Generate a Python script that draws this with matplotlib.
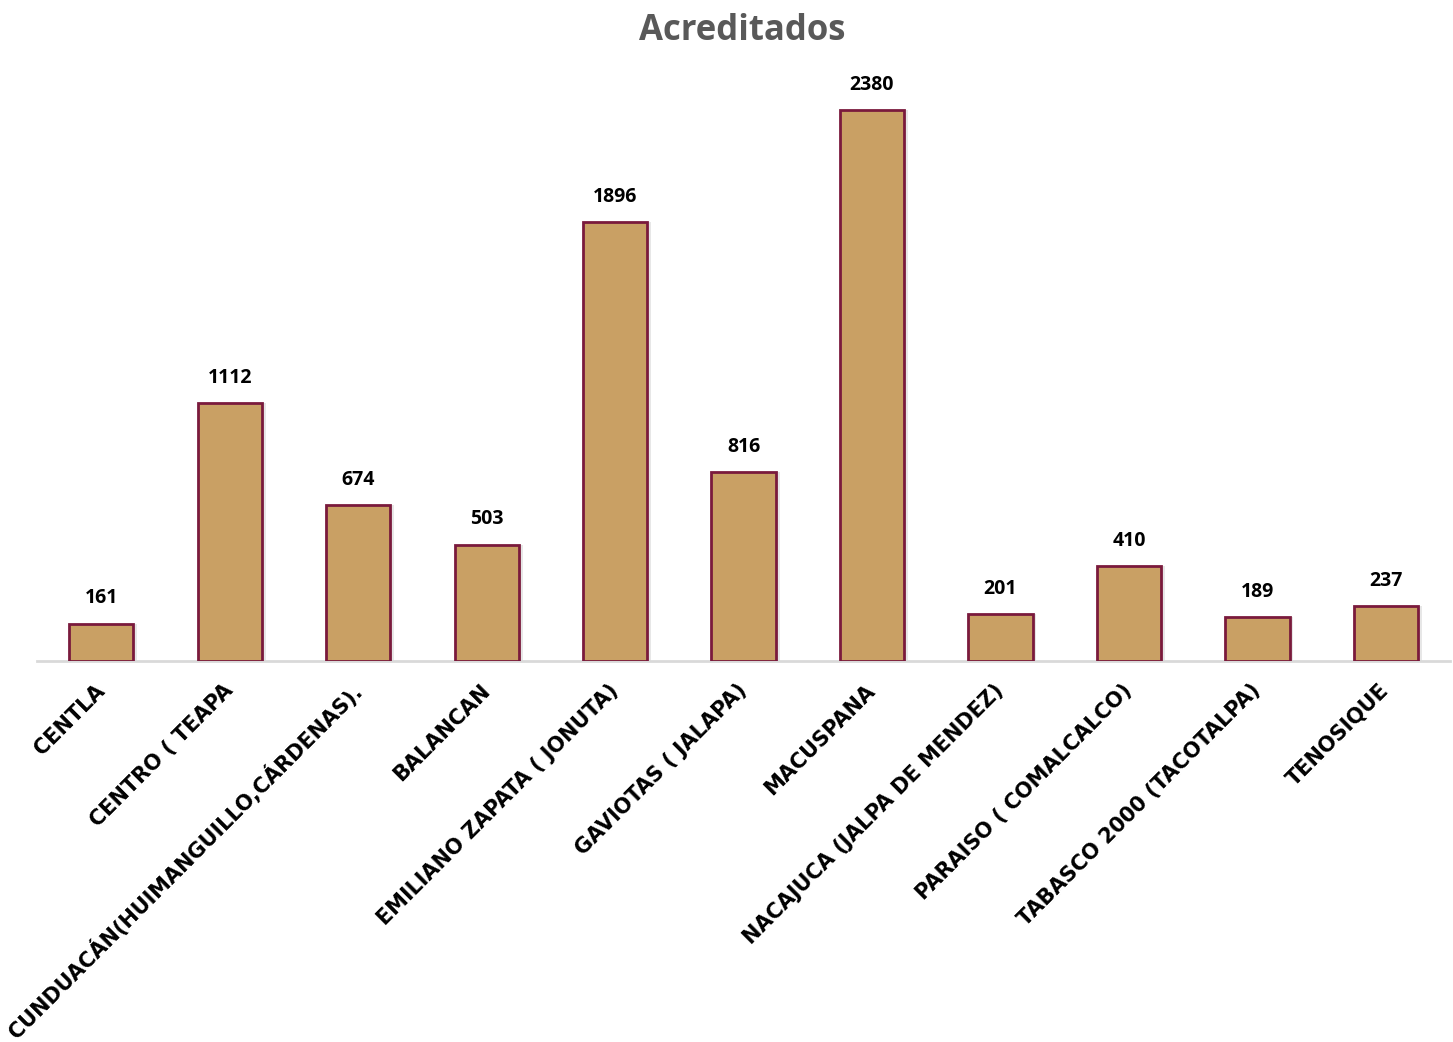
import matplotlib.pyplot as plt

categorias = ['CENTLA', 'CENTRO ( TEAPA', 'CUNDUACÁN(HUIMANGUILLO,CÁRDENAS).', 'BALANCAN',
              'EMILIANO ZAPATA ( JONUTA)', 'GAVIOTAS ( JALAPA)', 'MACUSPANA',
              'NACAJUCA (JALPA DE MENDEZ)', 'PARAISO ( COMALCALCO)', 'TABASCO 2000 (TACOTALPA)',
              'TENOSIQUE']
acreditados = [161, 1112, 674, 503, 1896, 816, 2380, 201, 410, 189, 237]

fig = plt.figure(figsize=(14.53, 10.42), dpi=100)
ax = fig.add_axes([0.0255, 0.3656, 0.9725, 0.5557])

x = range(len(categorias))
# sombra suave
ax.bar([i + 0.03 for i in x], acreditados, width=0.5, color='#BBBBBB', alpha=0.35, linewidth=0)
ax.bar(x, acreditados, width=0.5, color='#C9A064', edgecolor='#7A1A3C', linewidth=2, zorder=3)

for xi, v in zip(x, acreditados):
    ax.annotate(str(v), (xi, v), xytext=(0, 11), textcoords='offset points',
                ha='center', va='bottom', fontsize=14, fontweight='bold',
                family='Open Sans', color='black')

ax.set_xlim(-0.5, len(categorias) - 0.5)
ax.set_ylim(0, 2500)
ax.set_yticks([])
for s in ['top', 'right', 'left']:
    ax.spines[s].set_visible(False)
ax.spines['bottom'].set_color('#D9D9D9')
ax.spines['bottom'].set_linewidth(2)

ax.set_xticks(list(x))
ax.set_xticklabels(categorias, rotation=45, ha='right', va='center', rotation_mode='anchor',
                   fontsize=15, fontweight='bold', family='DejaVu Sans')
ax.tick_params(axis='x', length=0, pad=19)

fig.text(0.511, 0.970, 'Acreditados', ha='center', va='center', fontsize=25,
         fontweight='bold', family='Open Sans', color='#595959')

fig.savefig('out.png', dpi=100)
